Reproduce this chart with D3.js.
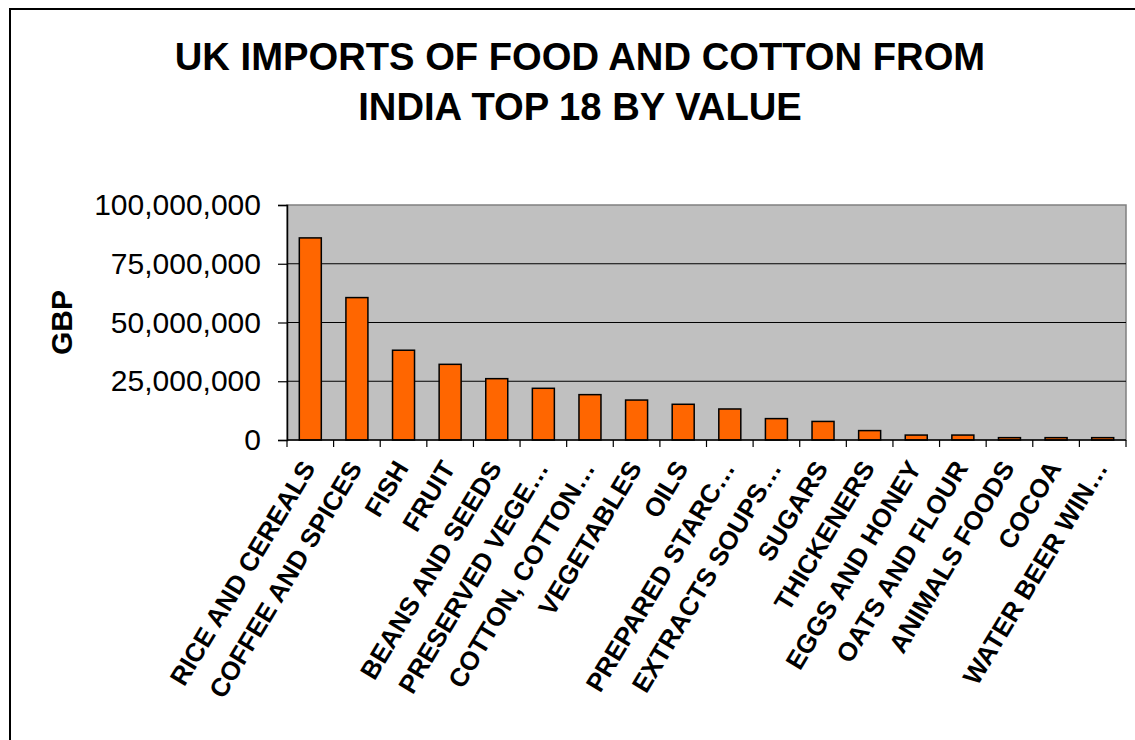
<!DOCTYPE html>
<html>
<head>
<meta charset="utf-8">
<script src="https://cdn.jsdelivr.net/npm/d3@7"></script>
<style>
  html, body { margin: 0; padding: 0; background: #fff; }
  svg { display: block; font-family: "Liberation Sans", Arial, sans-serif; }
</style>
</head>
<body>
<div id="chart"></div>
<script>
// Chart data
const categories = [
  "RICE AND CEREALS", "COFFEE AND SPICES", "FISH", "FRUIT", "BEANS AND SEEDS",
  "PRESERVED VEGE…", "COTTON, COTTON…", "VEGETABLES", "OILS", "PREPARED STARC…",
  "EXTRACTS SOUPS…", "SUGARS", "THICKENERS", "EGGS AND HONEY", "OATS AND FLOUR",
  "ANIMALS FOODS", "COCOA", "WATER BEER WIN…"
];
const values = [
  86000000, 60600000, 38200000, 32200000, 26100000,
  22000000, 19300000, 17000000, 15200000, 13200000,
  9100000, 7900000, 4000000, 2100000, 2100000,
  1000000, 1000000, 1000000
];
const yTicks = [0, 25000000, 50000000, 75000000, 100000000];
const titleLines = ["UK IMPORTS OF FOOD AND COTTON FROM", "INDIA TOP 18 BY VALUE"];
const yLabel = "GBP";

const W = 1135, H = 740;
const plot = { left: 287, right: 1126, top: 205, bottom: 440 };

const svg = d3.select("#chart").append("svg")
  .attr("width", W).attr("height", H);

// Outer chart border (runs past the right and bottom edges)
svg.append("rect")
  .attr("x", 10).attr("y", 9)
  .attr("width", W + 20).attr("height", H + 20)
  .attr("fill", "#fff").attr("stroke", "#000").attr("stroke-width", 2);

// Title
svg.append("g").selectAll("text")
  .data(titleLines)
  .join("text")
  .attr("x", 580)
  .attr("y", (d, i) => 70 + i * 50)
  .attr("text-anchor", "middle")
  .style("font-size", "38.2px")
  .style("font-weight", "bold")
  .text(d => d);

const xBand = d3.scaleBand()
  .domain(categories)
  .range([plot.left, plot.right]);

const y = d3.scaleLinear()
  .domain([0, 100000000])
  .range([plot.bottom, plot.top]);

// Plot area
svg.append("rect")
  .attr("x", plot.left).attr("y", plot.top)
  .attr("width", plot.right - plot.left)
  .attr("height", plot.bottom - plot.top)
  .attr("fill", "#c0c0c0")
  .attr("stroke", "#808080").attr("stroke-width", 1.5);

// Gridlines
svg.append("g").selectAll("line")
  .data(yTicks.filter(d => d > 0 && d < 100000000))
  .join("line")
  .attr("x1", plot.left).attr("x2", plot.right)
  .attr("y1", d => y(d)).attr("y2", d => y(d))
  .attr("stroke", "#000").attr("stroke-width", 1.2);

// Bars
svg.append("g").selectAll("rect")
  .data(values)
  .join("rect")
  .attr("x", (d, i) => xBand(categories[i]) + xBand.bandwidth() / 2 - 11)
  .attr("width", 22)
  .attr("y", d => y(d))
  .attr("height", d => y(0) - y(d))
  .attr("fill", "#ff6600")
  .attr("stroke", "#000").attr("stroke-width", 1.5);

// Y axis
const yAxis = svg.append("g")
  .attr("transform", `translate(${plot.left},0)`)
  .call(d3.axisLeft(y).tickValues(yTicks).tickSize(9).tickPadding(17)
    .tickFormat(d3.format(",")));
yAxis.select(".domain").attr("stroke", "#000").attr("stroke-width", 1.5);
yAxis.selectAll(".tick line").attr("stroke", "#000").attr("stroke-width", 1.2);
yAxis.selectAll("text")
  .attr("fill", "#000")
  .style("font-size", "30px")
  .style("font-family", "'Liberation Sans', Arial, sans-serif");

// X axis: ticks on band boundaries
const boundaries = categories.map(c => xBand(c)).concat([plot.right]);
svg.append("line")
  .attr("x1", plot.left).attr("x2", plot.right)
  .attr("y1", plot.bottom).attr("y2", plot.bottom)
  .attr("stroke", "#000").attr("stroke-width", 1.5);
svg.append("g").selectAll("line")
  .data(boundaries)
  .join("line")
  .attr("x1", d => d).attr("x2", d => d)
  .attr("y1", plot.bottom).attr("y2", plot.bottom + 7)
  .attr("stroke", "#000").attr("stroke-width", 1.2);

// X labels
svg.append("g").selectAll("text")
  .data(categories)
  .join("text")
  .attr("transform", d => `translate(${xBand(d) + xBand.bandwidth() / 2 + 6},${plot.bottom + 28}) rotate(-59)`)
  .attr("text-anchor", "end")
  .style("font-size", "26px")
  .style("font-weight", "bold")
  .text(d => d);

// Y label
svg.append("text")
  .attr("transform", `translate(72,${(plot.top + plot.bottom) / 2}) rotate(-90)`)
  .attr("text-anchor", "middle")
  .style("font-size", "30px")
  .style("font-weight", "bold")
  .text(yLabel);
</script>
</body>
</html>
